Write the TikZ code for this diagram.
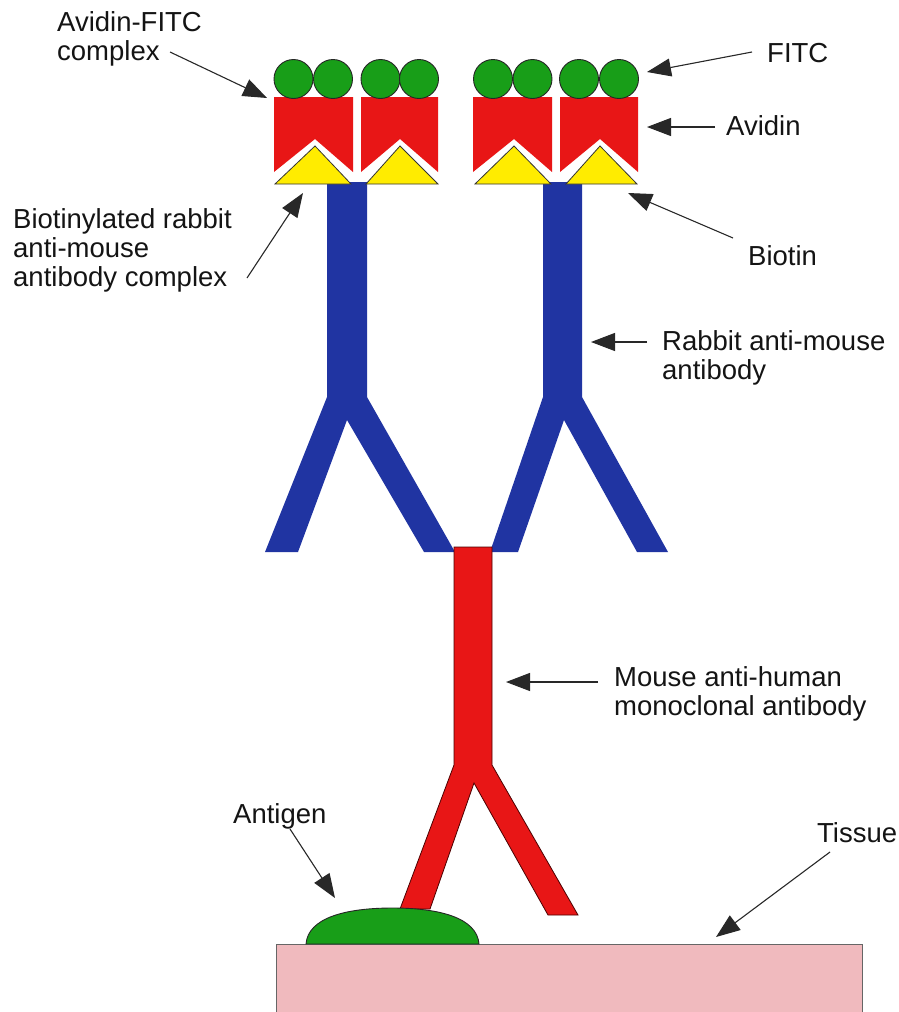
\documentclass[tikz,border=0pt]{standalone}
\usepackage{fontspec}
\setmainfont{Liberation Sans}
\usetikzlibrary{arrows.meta}

\definecolor{fitcgreen}{RGB}{24,158,24}
\definecolor{avidinred}{RGB}{232,22,22}
\definecolor{biotinyellow}{RGB}{255,236,0}
\definecolor{rabbitblue}{RGB}{32,52,162}
\definecolor{tissuepink}{RGB}{240,186,190}
\definecolor{inkgray}{RGB}{40,40,40}

\begin{document}
\begin{tikzpicture}[x=1pt,y=-1pt,
  % labels are placed by the baseline of their last line
  lbl/.style={anchor=base west, inner sep=0pt, align=left,
    font=\fontsize{27.5}{29}\selectfont, text=black!92},
  pointer/.style={draw=inkgray, line width=1.1pt,
    -{Triangle[length=24pt,width=18pt]}},
  fitc/.style={fill=fitcgreen, draw=black!85, line width=0.9pt},
  avidin/.style={fill=avidinred},
  biotin/.style={fill=biotinyellow, draw=black!80, line width=0.8pt},
  rabbitab/.style={fill=rabbitblue},
  mouseab/.style={fill=avidinred, draw=black!70!red, line width=0.8pt},
  antigen/.style={fill=fitcgreen, draw=black!85, line width=0.9pt},
  tissue/.style={fill=tissuepink, draw=black!60, line width=0.8pt}]

\useasboundingbox (0,0) rectangle (898,1012);
\fill[white] (0,0) rectangle (898,1012);

% tissue slab
\draw[tissue] (276,944) rectangle (862,1013);

% rabbit anti-mouse antibodies (drawn first, biotin sits on top)
\path[rabbitab] (327,182) -- (367,182) -- (367,397) -- (455,552) -- (424,552)
  -- (347,420) -- (298,552) -- (265,552) -- (327,397) -- cycle;
\path[rabbitab] (543,182) -- (582,182) -- (582,397) -- (668,552) -- (637,552)
  -- (564,420) -- (518,552) -- (490,552) -- (543,397) -- cycle;

% mouse anti-human monoclonal antibody
\draw[mouseab] (454,547) -- (492,547) -- (492,765) -- (578,915) -- (548,915)
  -- (474,783) -- (430,909) -- (400,909) -- (454,765) -- cycle;

% antigen on the tissue surface
\draw[antigen] (306,944) .. controls (308,918) and (345,908) .. (392.5,908)
  .. controls (440,908) and (477,918) .. (479,944) -- cycle;

% avidin blocks with the biotin notch
\foreach \l/\r/\a in {274/353/315, 361/438/400, 473/552/514, 560/638/600}
  \path[avidin] (\l,97) -- (\r,97) -- (\r,172) -- (\a,139) -- (\l,172) -- cycle;

% biotin triangles
\foreach \l/\r/\a in {275/351/315, 366/438/400, 475/551/514, 566/637/600}
  \draw[biotin] (\l,184) -- (\a,146) -- (\r,184) -- cycle;

% FITC molecules
\foreach \c in {293.5, 333, 380.5, 419, 493, 532.5, 579, 619}
  \draw[fitc] (\c,79) circle[radius=19.5];

% labels
\node[lbl] (lavf) at (57,60) {Avidin-FITC\\complex};
\node[lbl] (lbrab) at (13,286) {Biotinylated rabbit\\anti-mouse\\antibody complex};
\node[lbl] (lfitc) at (767,62) {FITC};
\node[lbl] (lavidin) at (726,135) {Avidin};
\node[lbl] (lbiotin) at (748,265) {Biotin};
\node[lbl] (lrabbit) at (662,379) {Rabbit anti-mouse\\antibody};
\node[lbl] (lmouse) at (614,715) {Mouse anti-human\\monoclonal antibody};
\node[lbl] (lantigen) at (233,823) {Antigen};
\node[lbl] (ltissue) at (817,842) {Tissue};

% pointer ends
\coordinate (tavf) at (170,52);   \coordinate (havf) at (267,98);
\coordinate (tbrab) at (247,278); \coordinate (hbrab) at (303,193);
\coordinate (tfitc) at (752,52);  \coordinate (hfitc) at (647,72);
\coordinate (tavidin) at (715,127); \coordinate (havidin) at (647,127);
\coordinate (tbiotin) at (733,238); \coordinate (hbiotin) at (628,193);
\coordinate (trabbit) at (647,342); \coordinate (hrabbit) at (591,342);
\coordinate (tmouse) at (598,682); \coordinate (hmouse) at (506,682);
\coordinate (tantigen) at (290,829); \coordinate (hantigen) at (335,898);
\coordinate (ttissue) at (830,852); \coordinate (htissue) at (716,937);

\draw[pointer] (tavf) -- (havf);
\draw[pointer] (tbrab) -- (hbrab);
\draw[pointer] (tfitc) -- (hfitc);
\draw[pointer] (tavidin) -- (havidin);
\draw[pointer] (tbiotin) -- (hbiotin);
\draw[pointer] (trabbit) -- (hrabbit);
\draw[pointer] (tmouse) -- (hmouse);
\draw[pointer] (tantigen) -- (hantigen);
\draw[pointer] (ttissue) -- (htissue);
\end{tikzpicture}
\end{document}
